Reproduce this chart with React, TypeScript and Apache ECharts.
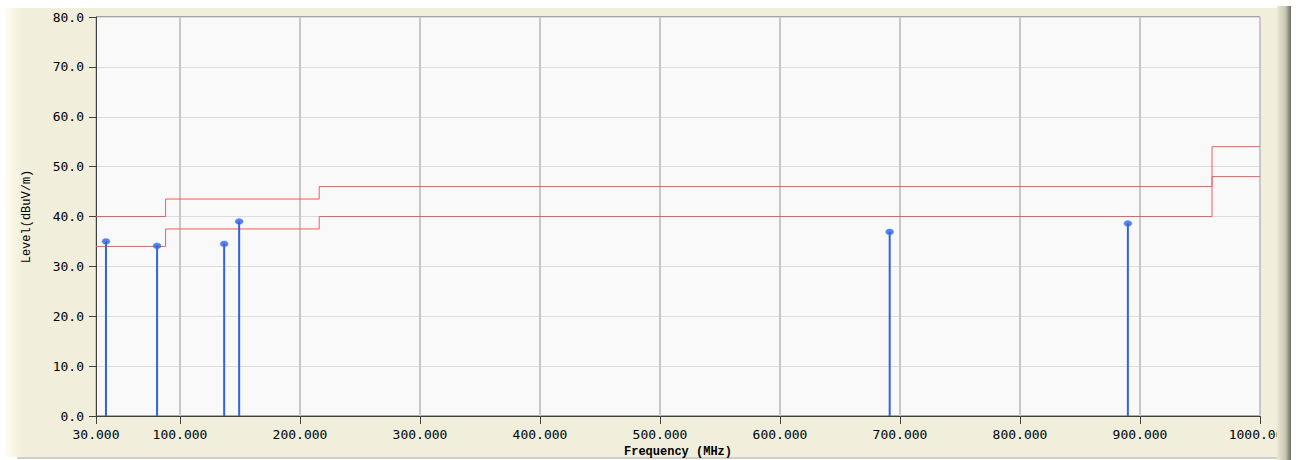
import React, { useEffect, useRef } from "react";
import * as echarts from "echarts";

const xTicks = [30, 100, 200, 300, 400, 500, 600, 700, 800, 900, 1000];
const yMin = 0;
const yMax = 80;
const yStep = 10;

const limitBreaks = [30, 88, 216, 960, 1000];
const upperLimit = [40, 43.5, 46, 54];
const lowerLimit = [34, 37.5, 40, 48];

const peakFreqs = [38.3, 80.9, 136.8, 149.3, 691.4, 889.9];
const peakLevels = [35.0, 34.1, 34.5, 39.0, 36.9, 38.6];

function stepPoints(breaks: number[], levels: number[]) {
  const pts: number[][] = [];
  levels.forEach((lv, i) => {
    pts.push([breaks[i], lv]);
    pts.push([breaks[i + 1], lv]);
  });
  return pts;
}

export default function App() {
  const ref = useRef<HTMLDivElement>(null);
  useEffect(() => {
    if (!ref.current) return;
    const chart = echarts.init(ref.current, null, { renderer: "svg" });
    const labelFont = "DejaVu Sans Mono";
    chart.setOption({
      animation: false,
      backgroundColor: "#ffffff",
      graphic: [
        { type: "rect", z: -10, shape: { x: 5, y: 8, width: 1280, height: 449 }, style: { fill: "#f1eedc" }, silent: true },
        { type: "rect", z: -9, shape: { x: 5, y: 8, width: 18, height: 449 }, style: { fill: { type: "linear", x: 0, y: 0, x2: 1, y2: 0, colorStops: [{ offset: 0, color: "#fffdf0" }, { offset: 1, color: "#f1eedc" }] } }, silent: true },
        { type: "rect", z: -9, shape: { x: 17, y: 457, width: 1268, height: 2 }, style: { fill: "#d0d0c8" }, silent: true },
        { type: "rect", z: 100, shape: { x: 1277, y: 6, width: 14, height: 454 }, style: { fill: { type: "linear", x: 0, y: 0, x2: 1, y2: 0, colorStops: [{ offset: 0, color: "#ece9d6" }, { offset: 0.6, color: "#c9c6b4" }, { offset: 1, color: "#6c6a60" }] } }, silent: true },
        { type: "rect", z: 100, shape: { x: 1291, y: 0, width: 10, height: 460 }, style: { fill: "#ffffff" }, silent: true },
      ],
      grid: {
        left: 96,
        right: 41,
        top: 17,
        bottom: 44,
        outerBoundsMode: "none",
        containLabel: false,
        show: true,
        backgroundColor: "#f9f9f9",
        borderColor: "#5a5a5a",
        borderWidth: 1,
      },
      xAxis: {
        type: "value",
        min: 30,
        max: 1000,
        name: "Frequency (MHz)",
        nameLocation: "middle",
        nameGap: 28,
        nameTextStyle: { fontFamily: "Liberation Mono", fontSize: 12, color: "#000", fontWeight: "bold" },
        axisLine: { show: true, lineStyle: { color: "#404040", width: 1 } },
        axisTick: { show: true, customValues: xTicks, length: 8, lineStyle: { color: "#404040" } },
        axisLabel: {
          customValues: xTicks,
          formatter: (v: number) => v.toFixed(3),
          fontFamily: labelFont,
          fontSize: 13,
          color: "#000",
          margin: 12,
          showMinLabel: true,
          showMaxLabel: true,
          hideOverlap: false,
        },
        splitLine: { show: true, lineStyle: { color: "#c8c8c8", width: 2 } },
      },
      yAxis: {
        type: "value",
        min: yMin,
        max: yMax,
        interval: yStep,
        name: "Level(dBuV/m)",
        nameLocation: "middle",
        nameGap: 63,
        nameTextStyle: { fontFamily: "Liberation Mono", fontSize: 12, color: "#000" },
        axisLine: { show: true, lineStyle: { color: "#404040", width: 1 } },
        axisTick: { show: true, length: 7, lineStyle: { color: "#404040" } },
        axisLabel: {
          formatter: (v: number) => v.toFixed(1),
          fontFamily: labelFont,
          fontSize: 13,
          color: "#000",
          margin: 12,
        },
        splitLine: { show: true, lineStyle: { color: "#dcdcdc", width: 1 } },
      },
      series: [
        {
          type: "line",
          data: stepPoints(limitBreaks, upperLimit),
          symbol: "none",
          lineStyle: { color: "#f85a5a", width: 1 },
          z: 3,
        },
        {
          type: "line",
          data: stepPoints(limitBreaks, lowerLimit),
          symbol: "none",
          lineStyle: { color: "#f85a5a", width: 1 },
          z: 3,
        },
        {
          type: "bar",
          data: peakFreqs.map((f, i) => [f, peakLevels[i]]),
          barWidth: 2,
          itemStyle: { color: "#2f63e3" },
          z: 4,
        },
        {
          type: "scatter",
          data: peakFreqs.map((f, i) => [f, peakLevels[i]]),
          symbol: "circle",
          symbolSize: [8, 6],
          itemStyle: { color: "#2f63e3", borderColor: "#5b86f0", borderWidth: 0.5 },
          z: 5,
        },
      ],
    });
    return () => chart.dispose();
  }, []);
  return <div ref={ref} style={{ position: "absolute", left: 0, top: 0, width: 1301, height: 460 }} />;
}
